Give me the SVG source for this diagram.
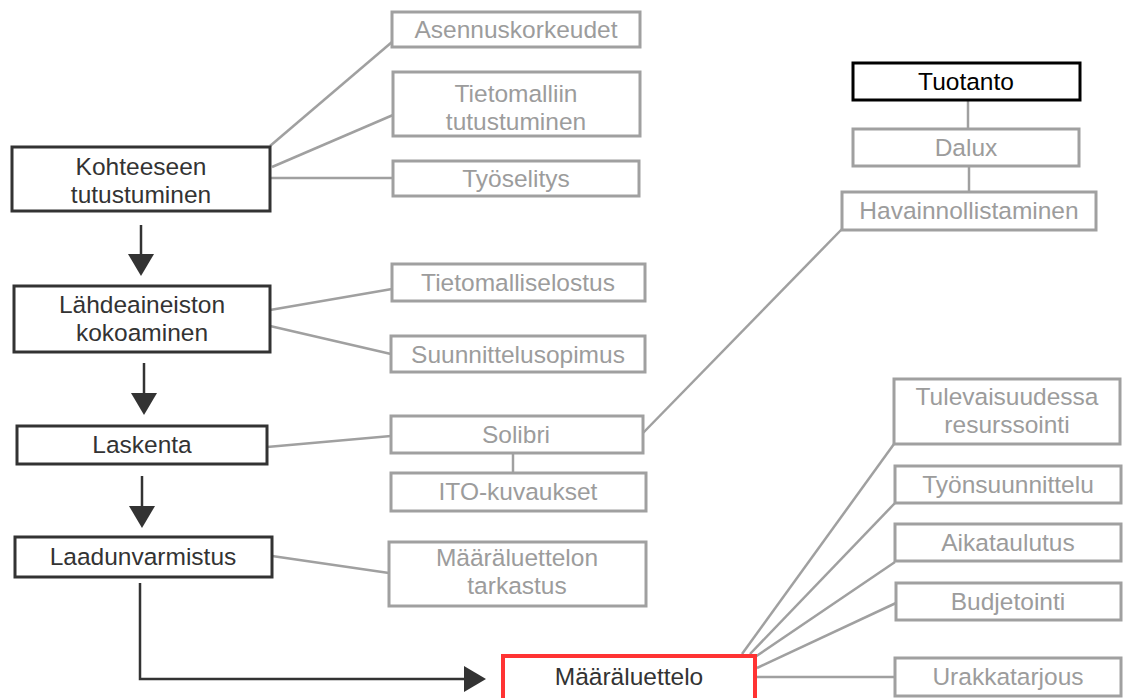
<svg xmlns="http://www.w3.org/2000/svg" width="1125" height="698" viewBox="0 0 1125 698">
<defs>
<style>
text{font-family:"Liberation Sans",Arial,sans-serif;font-size:24.5px;text-anchor:middle}
.main rect{fill:#fff;stroke:#333;stroke-width:3}
.main text{fill:#333}
.sub rect{fill:#fff;stroke:#a0a0a0;stroke-width:3}
.sub text{fill:#9c9c9c}
.top rect{fill:#fff;stroke:#000;stroke-width:3}
.top text{fill:#000}
.red rect{fill:#fff;stroke:#ff3333;stroke-width:4}
.red text{fill:#333}
.link{stroke:#a0a0a0;stroke-width:2.5;fill:none}
.flow{stroke:#333;stroke-width:2.5;fill:none;marker-end:url(#ah)}
</style>
<marker id="ah" markerUnits="userSpaceOnUse" viewBox="0 0 22 26" refX="2" refY="13" markerWidth="22" markerHeight="26" orient="auto">
<path d="M0,0 L22,13 L0,26 Z" fill="#333"/>
</marker>
</defs>
<rect width="1125" height="698" fill="#fff"/>
<g id="connectors">
<line class="link" x1="270" y1="146" x2="392" y2="42"/>
<line class="link" x1="272" y1="167" x2="393" y2="115"/>
<line class="link" x1="270" y1="178" x2="393" y2="178"/>
<line class="link" x1="270" y1="310" x2="392" y2="289"/>
<line class="link" x1="270" y1="326" x2="391" y2="354"/>
<line class="link" x1="267" y1="447" x2="391" y2="436"/>
<line class="link" x1="272" y1="556" x2="389" y2="573"/>
<line class="link" x1="513" y1="453" x2="513" y2="473"/>
<line class="link" x1="643" y1="433" x2="842" y2="229"/>
<line class="link" x1="968" y1="100" x2="968" y2="129"/>
<line class="link" x1="969" y1="166" x2="969" y2="192"/>
<line class="link" x1="742" y1="654" x2="894" y2="444"/>
<line class="link" x1="750" y1="654" x2="895" y2="503"/>
<line class="link" x1="755" y1="657" x2="895" y2="562"/>
<line class="link" x1="757" y1="668" x2="896" y2="603"/>
<line class="link" x1="757" y1="677" x2="895" y2="677"/>
<path class="flow" d="M141,225 L141,256"/>
<path class="flow" d="M144,363 L144,395"/>
<path class="flow" d="M142,476 L142,508"/>
<path class="flow" d="M140,583 L140,679 L466,679"/>
</g>
<g id="kohteeseen" class="main"><rect x="12" y="147" width="258" height="64"/><text x="141" y="175">Kohteeseen</text><text x="141" y="203">tutustuminen</text></g>
<g id="lahdeaineiston" class="main"><rect x="14" y="286" width="256" height="66"/><text x="142" y="313">Lähdeaineiston</text><text x="142" y="341">kokoaminen</text></g>
<g id="laskenta" class="main"><rect x="17" y="426" width="250" height="38"/><text x="142" y="453">Laskenta</text></g>
<g id="laadunvarmistus" class="main"><rect x="15" y="537" width="257" height="40"/><text x="143" y="565">Laadunvarmistus</text></g>
<g id="maaraluettelo" class="red"><rect x="503" y="656" width="252" height="60"/><text x="629" y="685">Määräluettelo</text></g>
<g id="asennuskorkeudet" class="sub"><rect x="392" y="12" width="248" height="35"/><text x="516" y="38">Asennuskorkeudet</text></g>
<g id="tietomalliin" class="sub"><rect x="393" y="72" width="247" height="64"/><text x="516" y="102">Tietomalliin</text><text x="516" y="130">tutustuminen</text></g>
<g id="tyoselitys" class="sub"><rect x="393" y="161" width="246" height="35"/><text x="516" y="187">Työselitys</text></g>
<g id="tietomalliselostus" class="sub"><rect x="392" y="264" width="253" height="37"/><text x="518" y="291">Tietomalliselostus</text></g>
<g id="suunnittelusopimus" class="sub"><rect x="391" y="336" width="254" height="36"/><text x="518" y="363">Suunnittelusopimus</text></g>
<g id="solibri" class="sub"><rect x="391" y="416" width="252" height="37"/><text x="516" y="443">Solibri</text></g>
<g id="ito-kuvaukset" class="sub"><rect x="391" y="473" width="255" height="38"/><text x="518" y="500">ITO-kuvaukset</text></g>
<g id="tarkastus" class="sub"><rect x="389" y="542" width="257" height="64"/><text x="517" y="566">Määräluettelon</text><text x="517" y="594">tarkastus</text></g>
<g id="tuotanto" class="top"><rect x="853" y="63" width="227" height="37"/><text x="966" y="90">Tuotanto</text></g>
<g id="dalux" class="sub"><rect x="853" y="129" width="226" height="37"/><text x="966" y="156">Dalux</text></g>
<g id="havainnollistaminen" class="sub"><rect x="842" y="192" width="254" height="38"/><text x="969" y="219">Havainnollistaminen</text></g>
<g id="tulevaisuudessa" class="sub"><rect x="894" y="379" width="226" height="65"/><text x="1007" y="405">Tulevaisuudessa</text><text x="1007" y="433">resurssointi</text></g>
<g id="tyonsuunnittelu" class="sub"><rect x="895" y="466" width="226" height="37"/><text x="1008" y="493">Työnsuunnittelu</text></g>
<g id="aikataulutus" class="sub"><rect x="895" y="524" width="226" height="37"/><text x="1008" y="551">Aikataulutus</text></g>
<g id="budjetointi" class="sub"><rect x="896" y="583" width="225" height="37"/><text x="1008" y="610">Budjetointi</text></g>
<g id="urakkatarjous" class="sub"><rect x="895" y="658" width="226" height="38"/><text x="1008" y="685">Urakkatarjous</text></g>
</svg>
